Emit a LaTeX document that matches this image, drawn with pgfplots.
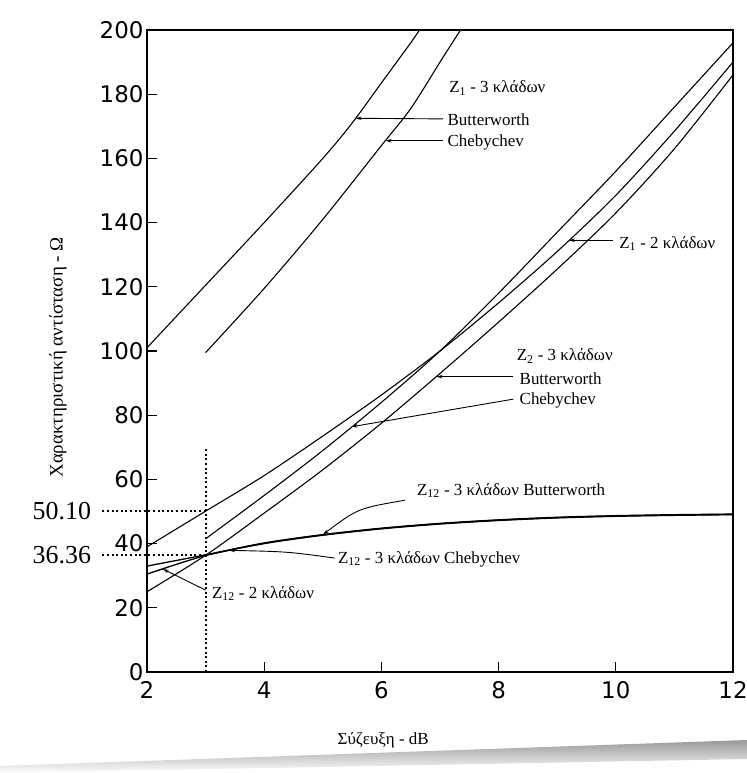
\documentclass[border=0pt]{standalone}
\usepackage{fontspec}
\setmainfont{Liberation Serif}
\newfontfamily\ticksf{DejaVu Sans}
\usepackage{pgfplots}
\pgfplotsset{compat=1.18}
\usetikzlibrary{arrows.meta}
\newcommand\annfont{\fontsize{17}{17}\selectfont}
\begin{document}
\begin{tikzpicture}
\path[use as bounding box] (0bp,0bp) rectangle (747bp,773bp);
\fill[white] (0bp,0bp) rectangle (747bp,773bp);
\shade[top color=gray!80, bottom color=white] (0bp,7bp) -- (747bp,33bp) -- (747bp,14bp) -- (0bp,0bp) -- cycle;
\begin{axis}[
  at={(147bp,101bp)}, anchor=south west,
  scale only axis, width=586bp, height=642bp,
  xmin=2, xmax=12, ymin=0, ymax=200,
  xtick={2,4,...,12}, ytick={0,20,...,200},
  tick align=inside, major tick length=10bp,
  xtick pos=bottom, ytick pos=left,
  axis line style={line width=1.2bp},
  every tick/.style={black, line width=1.1bp},
  ticklabel style={font=\fontsize{23}{23}\selectfont\ticksf},
  xticklabel style={yshift=-6bp},
  /pgf/number format/assume math mode=true,
  clip=false,
  xlabel={Σύζευξη - dB},
  xlabel style={font=\annfont, at={(axis description cs:0.403,-0.107)}, anchor=center},
  ylabel={Χαρακτηριστική αντίσταση - Ω},
  ylabel style={font=\fontsize{19}{19}\selectfont, at={(axis description cs:-0.152,0.49)}, anchor=center},
]
% Z1 - 3 branches
\addplot[black, line width=1.1bp, smooth] coordinates {(2,101) (3,120.5) (4,140) (5,160) (5.5,171) (6,183.5) (6.5,196) (6.65,200)};
\addplot[black, line width=1.1bp, smooth] coordinates {(3,99.5) (4,119.5) (5,141) (6,164) (6.5,175.5) (7,190) (7.35,200)};
% Z1 - 2 branches
\addplot[black, line width=1.1bp, smooth] coordinates {(2,39) (3,50.1) (4,61.2) (5,73.5) (6,86.3) (7,100) (8,115) (9,131) (10,148.5) (11,168.5) (12,190)};
% Z2 - 3 branches Chebychev
\addplot[black, line width=1.1bp, smooth] coordinates {(3,41.5) (4,55) (5,69) (6,84) (7,100) (8,118) (9,137) (10,156) (11,176) (12,196)};
% Z2 - 3 branches Butterworth
\addplot[black, line width=1.1bp, smooth] coordinates {(2,25) (3,36.36) (4,49.5) (5,63) (6,77.5) (7,93) (8,109) (9,125.5) (10,143) (11,163) (12,186)};
% Z12 curves
\addplot[black, line width=1.3bp, smooth] coordinates {(2,30.5) (3,36.3) (4,40) (5,42.6) (6,44.6) (7,46.1) (8,47.2) (9,48) (10,48.5) (11,48.8) (12,49)};
\addplot[black, line width=1.3bp, smooth] coordinates {(2,33) (3,36.5) (4,40.2) (5,42.8) (6,44.8) (7,46.3) (8,47.4) (9,48.2) (10,48.7) (11,49) (12,49.2)};
\addplot[black, line width=1.3bp, smooth] coordinates {(3,36.36) (4,40.1) (5,42.7) (6,44.7) (7,46.2) (8,47.3) (9,48.1) (10,48.6) (11,48.9) (12,49.1)};
% dotted guides
\tikzset{dots/.style={black, line width=2bp, line cap=butt, dash pattern=on 2bp off 2.6bp}}
\draw[dots] (axis cs:3,0) -- (axis cs:3,70);
\draw[dots] (axis cs:3,50.1) -- ([xshift=-47bp]axis cs:2,50.1) node[anchor=east, inner sep=8bp, font=\fontsize{26}{26}\selectfont] {50.10};
\draw[dots] (axis cs:3,36.36) -- ([xshift=-47bp]axis cs:2,36.36) node[anchor=east, inner sep=8bp, font=\fontsize{26}{26}\selectfont] {36.36};
% annotations
\tikzset{lead/.style={black, line width=0.9bp, -{Stealth[length=6bp,width=3.5bp]}}}
\node[anchor=west, font=\annfont] at (axis cs:7.1,182) {Z\textsubscript{1} - 3 κλάδων};
\node[anchor=west, font=\annfont] at (axis cs:7.07,172) {Butterworth};
\draw[lead] (axis cs:7.05,172.3) -- (axis cs:5.56,172.5);
\node[anchor=west, font=\annfont] at (axis cs:7.07,165) {Chebychev};
\draw[lead] (axis cs:7.05,165.5) -- (axis cs:6.07,165.5);
\node[anchor=west, font=\annfont] at (axis cs:10.0,133.5) {Z\textsubscript{1} - 2 κλάδων};
\draw[lead] (axis cs:9.95,134.5) -- (axis cs:9.2,134.5);
\node[anchor=west, font=\annfont] at (axis cs:8.25,98.5) {Z\textsubscript{2} - 3 κλάδων};
\node[anchor=west, font=\annfont] at (axis cs:8.3,91.5) {Butterworth};
\draw[lead] (axis cs:8.25,92) -- (axis cs:6.94,92);
\node[anchor=west, font=\annfont] at (axis cs:8.3,84.5) {Chebychev};
\draw[lead] (axis cs:8.25,85) -- (axis cs:5.49,76.4);
\node[anchor=west, font=\annfont] at (axis cs:6.55,56.5) {Z\textsubscript{12} - 3 κλάδων Butterworth};
\draw[lead] (axis cs:6.4,53.5) .. controls (axis cs:5.6,51) .. (axis cs:5.0,42.8);
\node[anchor=west, font=\annfont] at (axis cs:5.2,35.2) {Z\textsubscript{12} - 3 κλάδων Chebychev};
\draw[lead] (axis cs:5.2,35.5) .. controls (axis cs:4.4,37.5) .. (axis cs:3.4,37.9);
\node[anchor=west, font=\annfont] at (axis cs:3.05,24.5) {Z\textsubscript{12} - 2 κλάδων};
\draw[lead] (axis cs:3.0,25.5) -- (axis cs:2.27,32.1);
\end{axis}
\end{tikzpicture}
\end{document}
